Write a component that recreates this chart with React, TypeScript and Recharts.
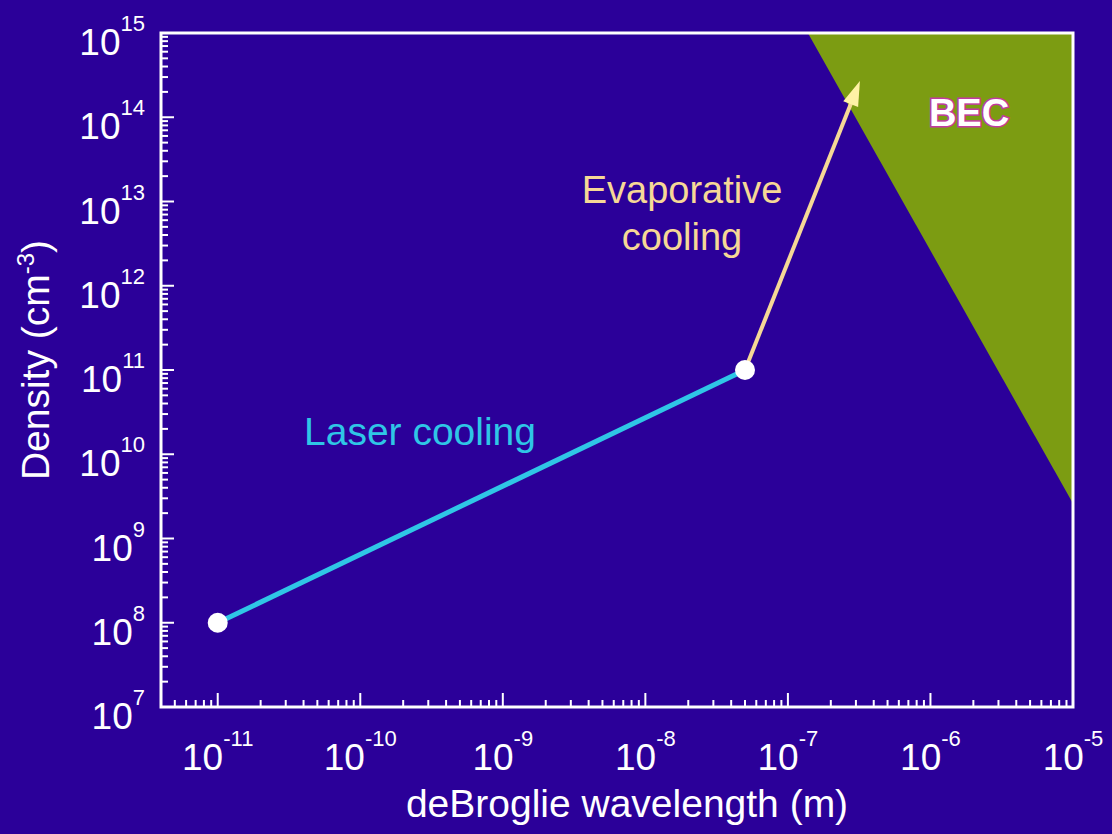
import {
  ComposedChart,
  Area,
  Scatter,
  XAxis,
  YAxis,
  ReferenceArea,
  ReferenceLine,
  Label,
} from "recharts";

const BG = "#2b0099";
const WHITE = "#ffffff";
const CYAN = "#2fc6e6";
const PEACH = "#f6d896";
const ARROW_HEAD = "#fff2a6";
const BEC_GREEN = "#7c9c12";
const BEC_EDGE = "#c23aa0";
const FONT = "'Liberation Sans', Arial, Helvetica, sans-serif";

const W = 1112;
const H = 834;

const X_DOMAIN = [4e-12, 1e-5];
const Y_DOMAIN = [1e7, 1e15];

// decades and mantissas used for the log tick marks
const xDecades = [-12, -11, -10, -9, -8, -7, -6, -5];
const yDecades = [7, 8, 9, 10, 11, 12, 13, 14, 15];
const mantissas = [1, 2, 3, 4, 5, 6, 7, 8, 9];

// BEC region: between the critical-density edge and the top of the plot
const becBoundary = [
  { x: 1.38e-7, lo: 1e15, hi: 1e15 },
  { x: 1e-5, lo: 2.6e9, hi: 1e15 },
];

const laserPath = [
  { x: 1e-11, y: 1e8 },
  { x: 5e-8, y: 1e11 },
];

const evapStart = { x: 5e-8, y: 1e11 };
const evapEnd = { x: 3.2e-7, y: 2.7e14 };

const logTicks = (decades: number[], [lo, hi]: number[]) =>
  decades
    .flatMap((d) => mantissas.map((m) => m * 10 ** d))
    .filter((v) => v >= lo * 0.999 && v <= hi * 1.001);

const xTicks = logTicks(xDecades, X_DOMAIN);
const yTicks = logTicks(yDecades, Y_DOMAIN);

const isMajor = (v: number) => {
  const l = Math.log10(v);
  return Math.abs(l - Math.round(l)) < 1e-9;
};

function XTick({ x, y, payload }: any) {
  const v = payload.value;
  const major = isMajor(v);
  return (
    <g>
      <line x1={x} y1={y} x2={x} y2={y - (major ? 14 : 7)} stroke={WHITE} strokeWidth={2} />
      {major && (
        <text x={x} y={y + 63} textAnchor="middle" fill={WHITE} fontSize={37} fontFamily={FONT}>
          10
          <tspan dy={-24} fontSize={22}>
            {Math.round(Math.log10(v))}
          </tspan>
        </text>
      )}
    </g>
  );
}

function YTick({ x, y, payload }: any) {
  const v = payload.value;
  const major = isMajor(v);
  return (
    <g>
      <line x1={x} y1={y} x2={x + (major ? 13 : 7)} y2={y} stroke={WHITE} strokeWidth={2} />
      {major && (
        <text x={x - 16} y={y + 22} textAnchor="end" fill={WHITE} fontSize={37} fontFamily={FONT}>
          10
          <tspan dy={-24} fontSize={22}>
            {Math.round(Math.log10(v))}
          </tspan>
        </text>
      )}
    </g>
  );
}

function XTitle({ viewBox }: any) {
  return (
    <text
      x={viewBox.x + viewBox.width / 2 + 10}
      y={viewBox.y + 110}
      textAnchor="middle"
      fill={WHITE}
      fontSize={39}
      fontFamily={FONT}
    >
      deBroglie wavelength (m)
    </text>
  );
}

function YTitle({ viewBox }: any) {
  const cx = 49;
  const cy = viewBox.y + viewBox.height / 2 - 10;
  return (
    <text
      x={cx}
      y={cy}
      transform={`rotate(-90 ${cx} ${cy})`}
      textAnchor="middle"
      fill={WHITE}
      fontSize={39}
      fontFamily={FONT}
    >
      Density (cm
      <tspan dy={-15} fontSize={24}>
        -3
      </tspan>
      <tspan dy={15}>)</tspan>
    </text>
  );
}

// line plus filled head, drawn in pixel space from the segment ends
function Arrow({ x1, y1, x2, y2 }: any) {
  const a = Math.atan2(y2 - y1, x2 - x1);
  const c = Math.cos(a);
  const s = Math.sin(a);
  const len = 25;
  const half = 8;
  const bx = x2 - len * c;
  const by = y2 - len * s;
  return (
    <g>
      <line x1={x1} y1={y1} x2={bx + 4 * c} y2={by + 4 * s} stroke={PEACH} strokeWidth={4} />
      <polygon
        points={`${x2},${y2} ${bx - s * half},${by + c * half} ${bx + s * half},${by - c * half}`}
        fill={ARROW_HEAD}
      />
    </g>
  );
}

const Dot = ({ cx, cy }: any) => <circle cx={cx} cy={cy} r={10} fill={WHITE} />;

export default function App() {
  return (
    <div style={{ position: "absolute", left: 0, top: 0, width: W, height: H, background: BG }}>
      <ComposedChart
        width={W}
        height={H}
        data={becBoundary}
        margin={{ top: 33, right: 39, bottom: 0, left: 0 }}
      >
        <XAxis
          dataKey="x"
          type="number"
          scale="log"
          domain={X_DOMAIN}
          allowDataOverflow
          ticks={xTicks}
          interval={0}
          tick={<XTick />}
          tickLine={false}
          tickSize={0}
          tickMargin={0}
          axisLine={false}
          height={127}
        >
          <Label content={XTitle} />
        </XAxis>
        <YAxis
          dataKey="y"
          type="number"
          scale="log"
          domain={Y_DOMAIN}
          allowDataOverflow
          ticks={yTicks}
          interval={0}
          tick={<YTick />}
          tickLine={false}
          tickSize={0}
          tickMargin={0}
          axisLine={false}
          width={161}
        >
          <Label content={YTitle} />
        </YAxis>
        <Area
          type="linear"
          dataKey={(d: any) => [d.lo, d.hi]}
          stroke="none"
          fill={BEC_GREEN}
          fillOpacity={1}
          isAnimationActive={false}
        />
        <ReferenceArea
          x1={X_DOMAIN[0]}
          x2={X_DOMAIN[1]}
          y1={Y_DOMAIN[0]}
          y2={Y_DOMAIN[1]}
          fill="none"
          stroke={WHITE}
          strokeWidth={3}
          ifOverflow="visible"
        />
        <ReferenceLine segment={[evapStart, evapEnd]} shape={Arrow} ifOverflow="visible" />
        <Scatter
          data={laserPath}
          line={{ stroke: CYAN, strokeWidth: 5 }}
          lineType="joint"
          fill={WHITE}
          shape={Dot}
          isAnimationActive={false}
        />
      </ComposedChart>
      <svg
        width={W}
        height={H}
        style={{ position: "absolute", left: 0, top: 0, pointerEvents: "none" }}
        fontFamily={FONT}
      >
        <text x={420} y={445} textAnchor="middle" fill={CYAN} fontSize={39}>
          Laser cooling
        </text>
        <text x={682} y={203} textAnchor="middle" fill={PEACH} fontSize={38}>
          Evaporative
        </text>
        <text x={682} y={250} textAnchor="middle" fill={PEACH} fontSize={38}>
          cooling
        </text>
        <text
          x={969}
          y={126}
          textAnchor="middle"
          fill={WHITE}
          stroke={BEC_EDGE}
          strokeWidth={3}
          paintOrder="stroke"
          fontSize={38}
          fontWeight="bold"
        >
          BEC
        </text>
      </svg>
    </div>
  );
}
